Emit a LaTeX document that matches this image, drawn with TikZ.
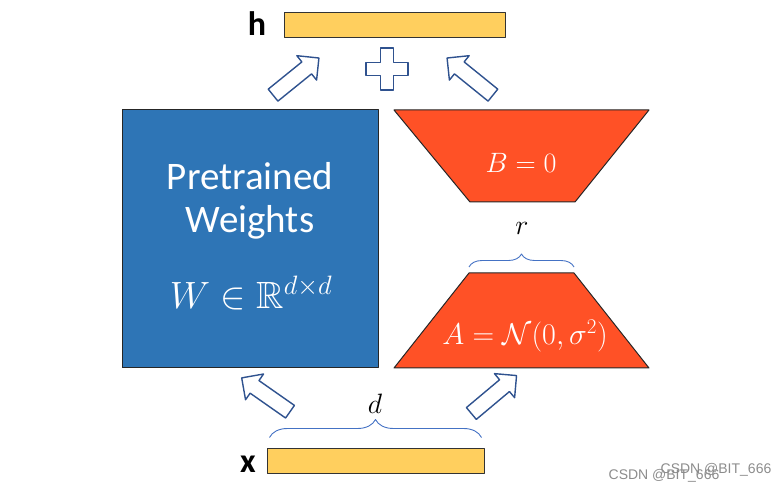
\RequirePackage{fix-cm}
\documentclass[tikz,border=0pt]{standalone}
\usepackage{amssymb}
\usepackage{fontspec}
\setsansfont{Carlito}
\newfontfamily\markfont{Liberation Sans}
\usetikzlibrary{shapes.arrows,decorations.pathreplacing}
\definecolor{Wfill}{RGB}{46,117,182}
\definecolor{ABfill}{RGB}{255,81,38}
\definecolor{Vfill}{RGB}{255,207,94}
\definecolor{Aedge}{RGB}{47,82,143}
\definecolor{Bredge}{RGB}{68,114,196}
\definecolor{Mgray}{RGB}{140,140,140}

\begin{document}
\begin{tikzpicture}[x=1pt,y=-1pt,line join=round,
  vecbar/.style={draw=black!80,line width=1pt,fill=Vfill,minimum height=25pt,inner sep=0pt},
  abshape/.style={draw=black!85,line width=1pt,fill=ABfill},
  fatarrow/.style={single arrow,draw=Aedge,line width=1.4pt,fill=white,minimum height=59pt,
    minimum width=30pt,single arrow head extend=8pt,inner xsep=0pt,inner ysep=7pt},
  dimbrace/.style={decorate,decoration={brace,amplitude=#1},draw=Bredge,line width=0.9pt},
  vlbl/.style={font=\sffamily\bfseries\fontsize{34}{36}\selectfont},
  mlbl/.style={text=white,font=\fontsize{#1}{#1}\selectfont},
  wmark/.style={text=Mgray,font=\markfont\fontsize{14}{16}\selectfont}]
\path[use as bounding box] (0,0) rectangle (780,486);
% vectors h and x
\node[vecbar,minimum width=221pt] (hbar) at (394.5,25.5) {};
\node[vlbl] (hlbl) at (257,24) {h};
\node[vecbar,minimum width=217pt] (xbar) at (375.5,461.5) {};
\node[vlbl] (xlbl) at (248,464) {x};
% pretrained weights
\node[draw=black!85,line width=1pt,fill=Wfill,minimum width=256pt,minimum height=258pt] (W) at (250,239) {};
\node[text=white,font=\sffamily\fontsize{39}{44}\selectfont] (wt1) at (250,176) {Pretrained};
\node[text=white,font=\sffamily\fontsize{39}{44}\selectfont] (wt2) at (250,222) {Weights};
\node[mlbl=38] (wm) at (251,293) {$W\in\mathbb{R}^{d\times d}$};
% low rank matrices
\draw[abshape] (394,110) -- (649,110) -- (575,202) -- (470,202) -- cycle;
\draw[abshape] (469,273) -- (574,273) -- (649,368) -- (394,368) -- cycle;
\coordinate (Atl) at (469,267);
\coordinate (Atr) at (574,267);
\node[mlbl=28] (B) at (521,163) {$B=0$};
\node[mlbl=30] (A) at (525,336) {$A=\mathcal{N}(0,\sigma^2)$};
% dimensions
\draw[dimbrace=13pt] (Atl) -- (Atr);
\node[text=black,font=\fontsize{28}{30}\selectfont] (r) at (522,228) {$r$};
\draw[dimbrace=18pt] ([xshift=3pt,yshift=11pt]xbar.north west) -- ([xshift=-3pt,yshift=11pt]xbar.north east);
\node[text=black,font=\fontsize{28}{30}\selectfont] (d) at (375,404) {$d$};
% flow arrows
\node[fatarrow,rotate=39] (aWout) at (293,79) {};
\node[fatarrow,rotate=141] (aBout) at (473,79) {};
\node[fatarrow,rotate=145] (aWin) at (269,397) {};
\node[fatarrow,rotate=40] (aAin) at (491,397) {};
\draw[Aedge,line width=1.4pt,fill=white] (380.5,48) -- (393.5,48) -- (393.5,62.5) -- (408,62.5)
  -- (408,75.5) -- (393.5,75.5) -- (393.5,90) -- (380.5,90) -- (380.5,75.5) -- (366,75.5)
  -- (366,62.5) -- (380.5,62.5) -- cycle;
% watermark
\node[wmark] (wm1) at (664,476) {CSDN @BIT\_666};
\node[wmark] (wm2) at (716,470) {CSDN @BIT\_666};
\end{tikzpicture}
\end{document}
